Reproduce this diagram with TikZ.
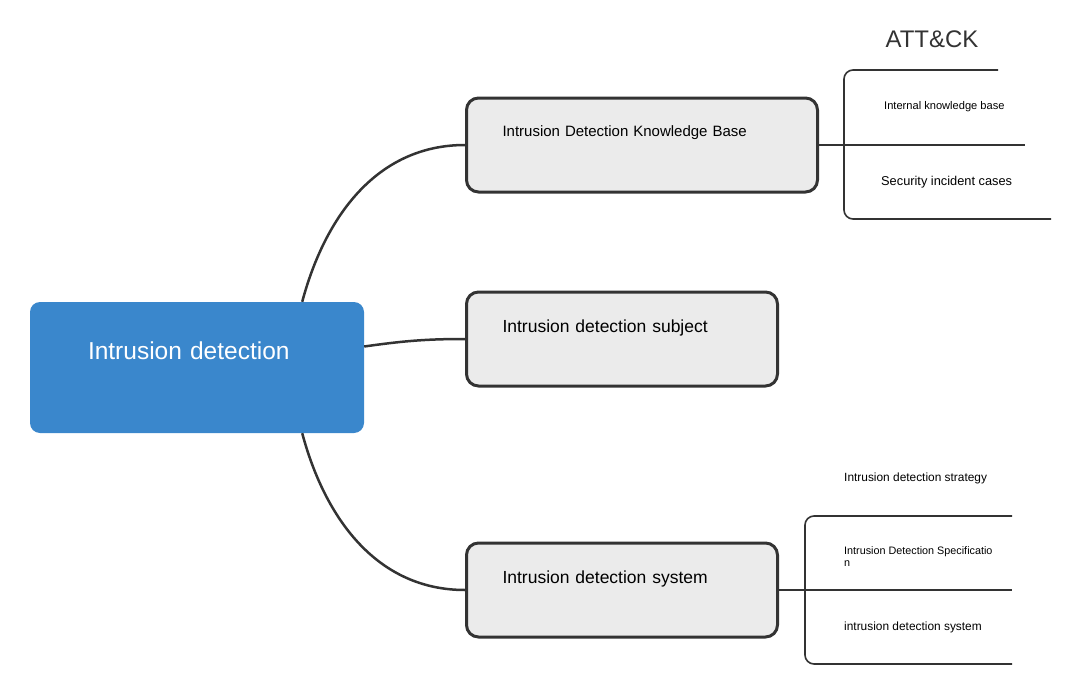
\documentclass[tikz,border=0pt]{standalone}
\usepackage{fontspec}
\setmainfont{Liberation Sans}
\definecolor{rootblue}{HTML}{3A87CC}
\definecolor{boxgray}{HTML}{EBEBEB}
\definecolor{inkgray}{HTML}{333333}
\begin{document}
\begin{tikzpicture}[x=1pt,y=1pt,
  root/.style={fill=rootblue, rounded corners=10pt, minimum height=131pt, inner xsep=58pt, text width=218pt, align=left, text=white, font=\fontsize{24.5}{28}\selectfont, text height=17pt, text depth=34pt},
  topic/.style={draw=inkgray, line width=3pt, fill=boxgray, rounded corners=12pt, anchor=west, minimum height=94pt, inner xsep=36pt, align=left, font=\fontsize{17.5}{21}\selectfont, text height=12pt, text depth=26pt},
  item/.style={anchor=base west, inner sep=0pt, text=black},
  link/.style={draw=inkgray, line width=2.5pt},
  branch/.style={draw=inkgray, line width=1.6pt, rounded corners=9pt}]
\useasboundingbox (0,0) rectangle (1080,-688);
\node[root] (root) at (197,-367.5) {Intrusion detection};
\node[topic, text width=279pt, font=\fontsize{15}{18}\selectfont, text depth=30pt] (kbase) at (465,-145) {Intrusion Detection Knowledge Base};
\node[topic, text width=239pt] (subject) at (465,-339) {Intrusion detection subject};
\node[topic, text width=239pt] (idsys) at (465,-590) {Intrusion detection system};
\draw[link] ([xshift=-62pt]root.north east) to[out=75, in=180] (kbase.west);
\draw[link] ([yshift=21pt]root.east) to[out=8, in=180] (subject.west);
\draw[link] ([xshift=-62pt]root.south east) to[out=-75, in=180] (idsys.west);
% knowledge base items
\node[anchor=base, inner sep=0pt, font=\fontsize{24}{28}\selectfont, text=inkgray] (attck) at (932,-47) {ATT\&CK};
\node[item, font=\fontsize{11.1}{13}\selectfont] (internal) at (884,-109) {Internal knowledge base};
\node[item, font=\fontsize{12.8}{15}\selectfont] (incident) at (881,-185.5) {Security incident cases};
\draw[branch] (998,-70) -| (844,-219) -- (1051,-219);
\draw[branch] (kbase.east) -- (1025,-145);
% system items
\node[item, font=\fontsize{11.9}{14}\selectfont] (strategy) at (844,-481) {Intrusion detection strategy};
\node[item, font=\fontsize{10.8}{12}\selectfont, align=left] (spec) at (844,-566) {Intrusion Detection Specificatio\\n};
\node[item, font=\fontsize{11.9}{14}\selectfont] (system) at (844,-630) {intrusion detection system};
\draw[branch] (1012,-516) -| (805,-664) -- (1012,-664);
\draw[branch] (idsys.east) -- (1012,-590);
\end{tikzpicture}
\end{document}
